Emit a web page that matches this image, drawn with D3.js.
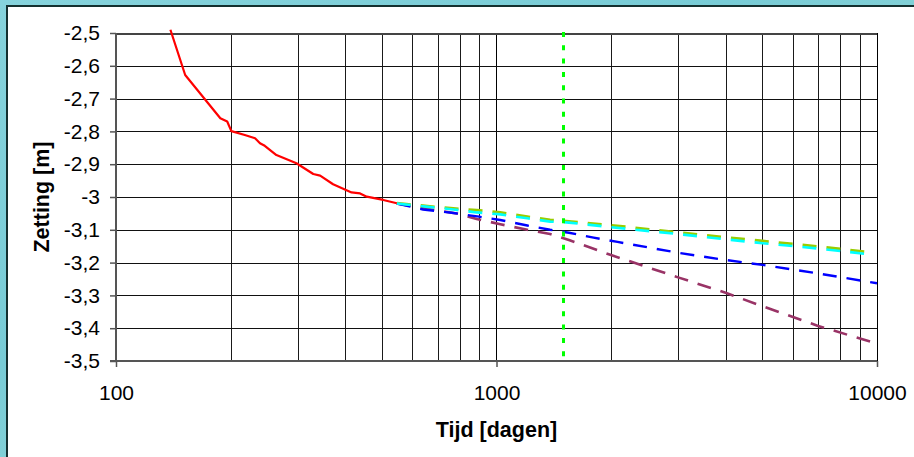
<!DOCTYPE html>
<html>
<head>
<meta charset="utf-8">
<script src="https://cdn.jsdelivr.net/npm/d3@7"></script>
<style>
  html, body { margin: 0; padding: 0; background: #fff; }
  svg { display: block; }
  text { font-family: "Liberation Sans", Arial, sans-serif; }
</style>
</head>
<body>
<svg id="chart" width="914" height="457"></svg>
<script>
// ---- data ----
const xTicks = [100, 1000, 10000];
const xTickLabels = ["100", "1000", "10000"];
const yTicks = [-2.5, -2.6, -2.7, -2.8, -2.9, -3.0, -3.1, -3.2, -3.3, -3.4, -3.5];
const xGrid = [200, 300, 400, 500, 600, 700, 800, 900, 1000, 2000, 3000, 4000, 5000, 6000, 7000, 8000, 9000, 10000];
const xTitle = "Tijd [dagen]";
const yTitle = "Zetting [m]";
const markerTime = 1500;

const measuredT = [139, 152, 188, 196, 201, 218, 232, 239, 246, 264, 298, 330, 344, 372, 416, 438, 456, 504, 547];
const measuredV = [-2.49, -2.628, -2.76, -2.77, -2.799, -2.811, -2.821, -2.836, -2.844, -2.872, -2.897, -2.930, -2.935, -2.961, -2.986, -2.989, -2.999, -3.009, -3.019];

const purpleT = [547, 661, 786, 887, 1023, 1205, 1383, 1550, 2000, 3000, 4000, 5000, 7000, 10000];
const purpleV = [-3.02, -3.037, -3.050, -3.067, -3.083, -3.100, -3.113, -3.131, -3.177, -3.245, -3.292, -3.333, -3.393, -3.447];

const blueT = [547, 641, 762, 900, 1023, 1205, 1383, 1550, 1800, 2080, 3000, 4000, 5000, 7000, 10000];
const blueV = [-3.02, -3.038, -3.048, -3.060, -3.070, -3.087, -3.100, -3.109, -3.124, -3.137, -3.170, -3.192, -3.207, -3.233, -3.263];

const oliveT = [547, 580, 770, 887, 1023, 1205, 1383, 1550, 2000, 3000, 4000, 5000, 7000, 9500];
const oliveV = [-3.019, -3.022, -3.035, -3.040, -3.047, -3.060, -3.070, -3.074, -3.086, -3.108, -3.123, -3.134, -3.151, -3.168];

const cyanT = [547, 661, 770, 887, 1023, 1205, 1383, 1550, 2000, 3000, 4000, 5000, 7000, 9600];
const cyanV = [-3.02, -3.030, -3.038, -3.047, -3.053, -3.065, -3.075, -3.078, -3.092, -3.113, -3.129, -3.141, -3.157, -3.175];

// ---- drawing ----
const svg = d3.select("#chart");
const W = 914, H = 457;

const defs = svg.append("defs");
const grad = defs.append("linearGradient").attr("id", "bg").attr("x1", "0").attr("y1", "0").attr("x2", "1").attr("y2", "1");
grad.append("stop").attr("offset", "0%").attr("stop-color", "#86d3dc");
grad.append("stop").attr("offset", "40%").attr("stop-color", "#78ccd6");
grad.append("stop").attr("offset", "70%").attr("stop-color", "#93d8d8");
grad.append("stop").attr("offset", "100%").attr("stop-color", "#7dcfd9");

svg.append("rect").attr("width", W).attr("height", H).attr("fill", "url(#bg)");
svg.append("rect").attr("x", 7).attr("y", 6).attr("width", W).attr("height", H)
  .attr("fill", "#fff").attr("stroke", "#14302f").attr("stroke-width", 2);

const x = d3.scaleLog().domain([100, 10000]).range([116, 877]);
const y = d3.scaleLinear().domain([-2.5, -3.5]).range([33, 361]);

// gridlines
const grid = svg.append("g").attr("shape-rendering", "crispEdges");
grid.selectAll("line.v").data(xGrid).join("line")
  .attr("x1", d => Math.round(x(d)) + 0.5).attr("x2", d => Math.round(x(d)) + 0.5)
  .attr("y1", y(-2.5)).attr("y2", y(-3.5))
  .attr("stroke", d => (d === 1000 || d === 10000) ? "#000" : "#1a1a1a").attr("stroke-width", 1);
grid.selectAll("line.h").data(yTicks).join("line")
  .attr("x1", x(100)).attr("x2", x(10000))
  .attr("y1", d => Math.round(y(d)) + 0.5).attr("y2", d => Math.round(y(d)) + 0.5)
  .attr("stroke", d => d === -2.5 ? "#444" : "#111").attr("stroke-width", d => d === -2.5 ? 2 : 1.3);

// axes
const fmt = d => {
  const s = d3.format(".1f")(d);
  return (s.endsWith(".0") ? s.slice(0, -2) : s).replace(".", ",").replace("−", "-");
};
const yAxis = svg.append("g").attr("transform", `translate(${x(100)},0)`)
  .call(d3.axisLeft(y).tickValues(yTicks).tickSize(6).tickPadding(10).tickFormat(fmt));
const xAxis = svg.append("g").attr("transform", `translate(0,${y(-3.5)})`)
  .call(d3.axisBottom(x).tickValues(xTicks).tickSize(6).tickPadding(18).tickFormat((d, i) => xTickLabels[i]));
[yAxis, xAxis].forEach(a => {
  a.select(".domain").attr("stroke", "#555").attr("stroke-width", 2);
  a.selectAll(".tick line").attr("stroke", "#555").attr("stroke-width", 1.5);
  a.selectAll(".tick text").attr("fill", "#000").style("font-size", "21px").style("font-family", "'Liberation Sans', Arial, sans-serif");
});
yAxis.select(".domain").attr("d", `M0,${y(-2.5)}V${y(-3.5)}`);
xAxis.select(".domain").attr("d", `M${x(100) - 6},0H${x(10000)}`);

// series
const line = d3.line().x(d => x(d[0])).y(d => y(d[1]));
const zip = (t, v) => t.map((d, i) => [d, v[i]]);

svg.append("path").datum(zip(purpleT, purpleV)).attr("d", line)
  .attr("fill", "none").attr("stroke", "#993366").attr("stroke-width", 2.6).attr("stroke-dasharray", "14,10");
svg.append("path").datum(zip(blueT, blueV)).attr("d", line)
  .attr("fill", "none").attr("stroke", "#0000ff").attr("stroke-width", 2.4).attr("stroke-dasharray", "14,10");
svg.append("path").datum(zip(oliveT, oliveV)).attr("d", line)
  .attr("fill", "none").attr("stroke", "#99cc00").attr("stroke-width", 2.8).attr("stroke-dasharray", "14,10");
svg.append("path").datum(zip(cyanT, cyanV)).attr("d", line)
  .attr("fill", "none").attr("stroke", "#00ffff").attr("stroke-width", 2.6).attr("stroke-dasharray", "14,10");
svg.append("path").datum(zip(measuredT, measuredV)).attr("d", line)
  .attr("fill", "none").attr("stroke", "#ff0000").attr("stroke-width", 2.2).attr("stroke-linejoin", "round");

// marker vertical
svg.append("line")
  .attr("x1", x(markerTime)).attr("x2", x(markerTime))
  .attr("y1", y(-2.5) - 1).attr("y2", y(-3.5))
  .attr("stroke", "#00ff00").attr("stroke-width", 3).attr("stroke-dasharray", "5,8.3");

// titles
svg.append("text").attr("x", (x(100) + x(10000)) / 2).attr("y", 437)
  .attr("text-anchor", "middle").style("font-size", "21.5px").style("font-weight", "bold").text(xTitle);
svg.append("text").attr("transform", "translate(49,197) rotate(-90)")
  .attr("text-anchor", "middle").style("font-size", "21.5px").style("font-weight", "bold").text(yTitle);
</script>
</body>
</html>
